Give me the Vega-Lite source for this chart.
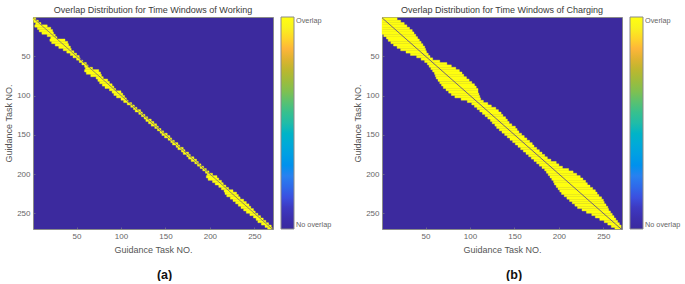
{
"$schema":"https://vega.github.io/schema/vega-lite/v6.json",
"background":"white",
"padding":{"left":4,"top":5,"right":0,"bottom":0},
"spacing":21,
"datasets":{
"working":[
{"row":1,"rowEnd":4,"from":1,"to":4,"overlap":1},{"row":4,"rowEnd":7,"from":2,"to":7,"overlap":1},{"row":7,"rowEnd":10,"from":4,"to":10,"overlap":1},{"row":10,"rowEnd":13,"from":3,"to":17,"overlap":1},{"row":13,"rowEnd":16,"from":6,"to":21,"overlap":1},{"row":16,"rowEnd":19,"from":8,"to":23,"overlap":1},{"row":19,"rowEnd":22,"from":11,"to":24,"overlap":1},{"row":22,"rowEnd":25,"from":17,"to":26,"overlap":1},{"row":25,"rowEnd":28,"from":21,"to":28,"overlap":1},{"row":28,"rowEnd":31,"from":20,"to":37,"overlap":1},{"row":31,"rowEnd":34,"from":22,"to":40,"overlap":1},{"row":34,"rowEnd":37,"from":26,"to":41,"overlap":1},{"row":37,"rowEnd":40,"from":30,"to":43,"overlap":1},{"row":40,"rowEnd":43,"from":35,"to":44,"overlap":1},{"row":43,"rowEnd":46,"from":39,"to":47,"overlap":1},{"row":46,"rowEnd":49,"from":43,"to":50,"overlap":1},{"row":49,"rowEnd":52,"from":46,"to":53,"overlap":1},{"row":52,"rowEnd":55,"from":50,"to":54,"overlap":1},{"row":55,"rowEnd":58,"from":53,"to":57,"overlap":1},{"row":58,"rowEnd":61,"from":56,"to":61,"overlap":1},{"row":61,"rowEnd":64,"from":59,"to":63,"overlap":1},{"row":64,"rowEnd":67,"from":60,"to":68,"overlap":1},{"row":67,"rowEnd":70,"from":59,"to":75,"overlap":1},{"row":70,"rowEnd":73,"from":61,"to":77,"overlap":1},{"row":73,"rowEnd":76,"from":66,"to":78,"overlap":1},{"row":76,"rowEnd":79,"from":72,"to":80,"overlap":1},{"row":79,"rowEnd":82,"from":74,"to":85,"overlap":1},{"row":82,"rowEnd":85,"from":76,"to":87,"overlap":1},{"row":85,"rowEnd":88,"from":79,"to":90,"overlap":1},{"row":88,"rowEnd":91,"from":82,"to":92,"overlap":1},{"row":91,"rowEnd":94,"from":87,"to":94,"overlap":1},{"row":94,"rowEnd":97,"from":90,"to":100,"overlap":1},{"row":97,"rowEnd":100,"from":92,"to":102,"overlap":1},{"row":100,"rowEnd":103,"from":95,"to":104,"overlap":1},{"row":103,"rowEnd":106,"from":100,"to":106,"overlap":1},{"row":106,"rowEnd":109,"from":103,"to":108,"overlap":1},{"row":109,"rowEnd":112,"from":107,"to":112,"overlap":1},{"row":112,"rowEnd":115,"from":111,"to":115,"overlap":1},{"row":115,"rowEnd":118,"from":114,"to":118,"overlap":1},{"row":118,"rowEnd":121,"from":116,"to":122,"overlap":1},{"row":121,"rowEnd":124,"from":120,"to":124,"overlap":1},{"row":124,"rowEnd":127,"from":123,"to":127,"overlap":1},{"row":127,"rowEnd":130,"from":126,"to":130,"overlap":1},{"row":130,"rowEnd":133,"from":128,"to":134,"overlap":1},{"row":133,"rowEnd":136,"from":131,"to":137,"overlap":1},{"row":136,"rowEnd":139,"from":134,"to":140,"overlap":1},{"row":139,"rowEnd":142,"from":138,"to":142,"overlap":1},{"row":142,"rowEnd":145,"from":141,"to":145,"overlap":1},{"row":145,"rowEnd":148,"from":144,"to":148,"overlap":1},{"row":148,"rowEnd":151,"from":146,"to":152,"overlap":1},{"row":151,"rowEnd":154,"from":149,"to":155,"overlap":1},{"row":154,"rowEnd":157,"from":153,"to":157,"overlap":1},{"row":157,"rowEnd":160,"from":156,"to":160,"overlap":1},{"row":160,"rowEnd":163,"from":158,"to":164,"overlap":1},{"row":163,"rowEnd":166,"from":162,"to":166,"overlap":1},{"row":166,"rowEnd":169,"from":164,"to":170,"overlap":1},{"row":169,"rowEnd":172,"from":168,"to":172,"overlap":1},{"row":172,"rowEnd":175,"from":170,"to":176,"overlap":1},{"row":175,"rowEnd":178,"from":174,"to":178,"overlap":1},{"row":178,"rowEnd":181,"from":176,"to":182,"overlap":1},{"row":181,"rowEnd":184,"from":179,"to":185,"overlap":1},{"row":184,"rowEnd":187,"from":183,"to":187,"overlap":1},{"row":187,"rowEnd":190,"from":186,"to":190,"overlap":1},{"row":190,"rowEnd":193,"from":189,"to":193,"overlap":1},{"row":193,"rowEnd":196,"from":192,"to":196,"overlap":1},{"row":196,"rowEnd":199,"from":195,"to":199,"overlap":1},{"row":199,"rowEnd":202,"from":197,"to":203,"overlap":1},{"row":202,"rowEnd":205,"from":196,"to":208,"overlap":1},{"row":205,"rowEnd":208,"from":198,"to":210,"overlap":1},{"row":208,"rowEnd":211,"from":203,"to":213,"overlap":1},{"row":211,"rowEnd":214,"from":206,"to":215,"overlap":1},{"row":214,"rowEnd":217,"from":210,"to":218,"overlap":1},{"row":217,"rowEnd":220,"from":213,"to":221,"overlap":1},{"row":220,"rowEnd":223,"from":216,"to":226,"overlap":1},{"row":223,"rowEnd":226,"from":217,"to":230,"overlap":1},{"row":226,"rowEnd":229,"from":219,"to":232,"overlap":1},{"row":229,"rowEnd":232,"from":223,"to":234,"overlap":1},{"row":232,"rowEnd":235,"from":226,"to":238,"overlap":1},{"row":235,"rowEnd":238,"from":229,"to":241,"overlap":1},{"row":238,"rowEnd":241,"from":232,"to":244,"overlap":1},{"row":241,"rowEnd":244,"from":235,"to":246,"overlap":1},{"row":244,"rowEnd":247,"from":238,"to":249,"overlap":1},{"row":247,"rowEnd":250,"from":241,"to":251,"overlap":1},{"row":250,"rowEnd":253,"from":245,"to":254,"overlap":1},{"row":253,"rowEnd":256,"from":249,"to":257,"overlap":1},{"row":256,"rowEnd":259,"from":252,"to":260,"overlap":1},{"row":259,"rowEnd":262,"from":254,"to":263,"overlap":1},{"row":262,"rowEnd":265,"from":258,"to":266,"overlap":1},{"row":265,"rowEnd":268,"from":262,"to":269,"overlap":1},{"row":268,"rowEnd":270,"from":265,"to":270,"overlap":1}
],
"charging":[
{"row":1,"rowEnd":4,"from":1,"to":18,"overlap":1},{"row":4,"rowEnd":7,"from":1,"to":22,"overlap":1},{"row":7,"rowEnd":10,"from":1,"to":26,"overlap":1},{"row":10,"rowEnd":13,"from":1,"to":29,"overlap":1},{"row":13,"rowEnd":16,"from":1,"to":32,"overlap":1},{"row":16,"rowEnd":19,"from":1,"to":35,"overlap":1},{"row":19,"rowEnd":22,"from":1,"to":37,"overlap":1},{"row":22,"rowEnd":25,"from":3,"to":39,"overlap":1},{"row":25,"rowEnd":28,"from":6,"to":41,"overlap":1},{"row":28,"rowEnd":31,"from":8,"to":43,"overlap":1},{"row":31,"rowEnd":34,"from":11,"to":45,"overlap":1},{"row":34,"rowEnd":37,"from":14,"to":47,"overlap":1},{"row":37,"rowEnd":40,"from":18,"to":49,"overlap":1},{"row":40,"rowEnd":43,"from":22,"to":50,"overlap":1},{"row":43,"rowEnd":46,"from":28,"to":51,"overlap":1},{"row":46,"rowEnd":49,"from":33,"to":53,"overlap":1},{"row":49,"rowEnd":52,"from":40,"to":55,"overlap":1},{"row":52,"rowEnd":55,"from":45,"to":58,"overlap":1},{"row":55,"rowEnd":58,"from":49,"to":66,"overlap":1},{"row":58,"rowEnd":61,"from":52,"to":74,"overlap":1},{"row":61,"rowEnd":64,"from":54,"to":79,"overlap":1},{"row":64,"rowEnd":67,"from":56,"to":84,"overlap":1},{"row":67,"rowEnd":70,"from":58,"to":88,"overlap":1},{"row":70,"rowEnd":73,"from":60,"to":91,"overlap":1},{"row":73,"rowEnd":76,"from":61,"to":93,"overlap":1},{"row":76,"rowEnd":79,"from":62,"to":96,"overlap":1},{"row":79,"rowEnd":82,"from":64,"to":99,"overlap":1},{"row":82,"rowEnd":85,"from":66,"to":102,"overlap":1},{"row":85,"rowEnd":88,"from":68,"to":105,"overlap":1},{"row":88,"rowEnd":91,"from":70,"to":107,"overlap":1},{"row":91,"rowEnd":94,"from":73,"to":109,"overlap":1},{"row":94,"rowEnd":97,"from":76,"to":109,"overlap":1},{"row":97,"rowEnd":100,"from":79,"to":110,"overlap":1},{"row":100,"rowEnd":103,"from":83,"to":111,"overlap":1},{"row":103,"rowEnd":106,"from":90,"to":112,"overlap":1},{"row":106,"rowEnd":109,"from":97,"to":115,"overlap":1},{"row":109,"rowEnd":112,"from":102,"to":120,"overlap":1},{"row":112,"rowEnd":115,"from":105,"to":124,"overlap":1},{"row":115,"rowEnd":118,"from":108,"to":129,"overlap":1},{"row":118,"rowEnd":121,"from":111,"to":132,"overlap":1},{"row":121,"rowEnd":124,"from":114,"to":135,"overlap":1},{"row":124,"rowEnd":127,"from":117,"to":137,"overlap":1},{"row":127,"rowEnd":130,"from":120,"to":140,"overlap":1},{"row":130,"rowEnd":133,"from":123,"to":142,"overlap":1},{"row":133,"rowEnd":136,"from":125,"to":144,"overlap":1},{"row":136,"rowEnd":139,"from":128,"to":147,"overlap":1},{"row":139,"rowEnd":142,"from":130,"to":151,"overlap":1},{"row":142,"rowEnd":145,"from":133,"to":153,"overlap":1},{"row":145,"rowEnd":148,"from":136,"to":155,"overlap":1},{"row":148,"rowEnd":151,"from":139,"to":158,"overlap":1},{"row":151,"rowEnd":154,"from":142,"to":161,"overlap":1},{"row":154,"rowEnd":157,"from":145,"to":164,"overlap":1},{"row":157,"rowEnd":160,"from":148,"to":167,"overlap":1},{"row":160,"rowEnd":163,"from":151,"to":170,"overlap":1},{"row":163,"rowEnd":166,"from":154,"to":172,"overlap":1},{"row":166,"rowEnd":169,"from":157,"to":175,"overlap":1},{"row":169,"rowEnd":172,"from":160,"to":178,"overlap":1},{"row":172,"rowEnd":175,"from":163,"to":181,"overlap":1},{"row":175,"rowEnd":178,"from":166,"to":184,"overlap":1},{"row":178,"rowEnd":181,"from":169,"to":187,"overlap":1},{"row":181,"rowEnd":184,"from":172,"to":191,"overlap":1},{"row":184,"rowEnd":187,"from":175,"to":197,"overlap":1},{"row":187,"rowEnd":190,"from":178,"to":200,"overlap":1},{"row":190,"rowEnd":193,"from":181,"to":204,"overlap":1},{"row":193,"rowEnd":196,"from":184,"to":211,"overlap":1},{"row":196,"rowEnd":199,"from":186,"to":216,"overlap":1},{"row":199,"rowEnd":202,"from":188,"to":220,"overlap":1},{"row":202,"rowEnd":205,"from":190,"to":224,"overlap":1},{"row":205,"rowEnd":208,"from":192,"to":227,"overlap":1},{"row":208,"rowEnd":211,"from":194,"to":230,"overlap":1},{"row":211,"rowEnd":214,"from":195,"to":232,"overlap":1},{"row":214,"rowEnd":217,"from":197,"to":235,"overlap":1},{"row":217,"rowEnd":220,"from":199,"to":238,"overlap":1},{"row":220,"rowEnd":223,"from":201,"to":241,"overlap":1},{"row":223,"rowEnd":226,"from":203,"to":243,"overlap":1},{"row":226,"rowEnd":229,"from":206,"to":245,"overlap":1},{"row":229,"rowEnd":232,"from":209,"to":248,"overlap":1},{"row":232,"rowEnd":235,"from":212,"to":250,"overlap":1},{"row":235,"rowEnd":238,"from":215,"to":251,"overlap":1},{"row":238,"rowEnd":241,"from":218,"to":253,"overlap":1},{"row":241,"rowEnd":244,"from":221,"to":255,"overlap":1},{"row":244,"rowEnd":247,"from":226,"to":256,"overlap":1},{"row":247,"rowEnd":250,"from":231,"to":258,"overlap":1},{"row":250,"rowEnd":253,"from":237,"to":260,"overlap":1},{"row":253,"rowEnd":256,"from":241,"to":262,"overlap":1},{"row":256,"rowEnd":259,"from":246,"to":264,"overlap":1},{"row":259,"rowEnd":262,"from":251,"to":266,"overlap":1},{"row":262,"rowEnd":265,"from":255,"to":268,"overlap":1},{"row":265,"rowEnd":268,"from":259,"to":270,"overlap":1},{"row":268,"rowEnd":270,"from":263,"to":270,"overlap":1}
],
"diagonal":[{"task":1},{"task":270}]
},
"config":{
"font":"Liberation Sans",
"view":{"fill":"#3C2A9E","stroke":"#8a8a8a","strokeWidth":1},
"title":{"fontSize":9,"fontWeight":"normal","color":"#3a3a3a","offset":1},
"axis":{"grid":false,"labelFontSize":8,"labelColor":"#666666","titleFontSize":9,"titleFontWeight":"normal","titleColor":"#555555","domain":false,"tickColor":"#8a8a8a","tickSize":-2,"labelPadding":5,"tickWidth":0.6},
"legend":{"gradientLength":212,"gradientThickness":13,"labelFontSize":7.3,"labelColor":"#666666","gradientStrokeColor":"#8a8a8a","gradientStrokeWidth":1,"offset":6,"labelOffset":5}
},
"hconcat":[
{"title":{"text":"(a)","orient":"bottom","anchor":"middle","fontSize":12.5,"fontWeight":"bold","color":"#111111","offset":14,"dx":-3.5},
 "vconcat":[{"title":"Overlap Distribution for Time Windows of Working","width":240,"height":212,
  "layer":[
  {"data":{"name":"working"},"mark":{"type":"rect","stroke":"#FFFF10","strokeWidth":0.4},"encoding":{
    "x":{"field":"from","type":"quantitative","scale":{"domain":[1,271],"nice":false,"zero":false},"axis":{"values":[50,100,150,200,250],"title":"Guidance Task NO.","titlePadding":5}},
    "x2":{"field":"to"},
    "y":{"field":"row","type":"quantitative","scale":{"domain":[0,270],"nice":false,"zero":false,"reverse":true},"axis":{"values":[50,100,150,200,250],"title":"Guidance Task NO.","titlePadding":3}},
    "y2":{"field":"rowEnd"},
    "color":{"field":"overlap","type":"quantitative","scale":{"domain":[0,0.085,0.15,0.245,0.43,0.5,0.65,0.77,0.84,0.94,1],"range":["#3A2A9E","#3D32B8","#3B50E0","#2F7FF0","#10B0D0","#20BCA8","#80C050","#C8B42C","#FCB03C","#F8F020","#FFFF10"]},"legend":{"title":null,"values":[0,1],"labelExpr":"datum.value==1?'Overlap':'No overlap'","labelBaseline":"middle"}}
  }},
  {"data":{"name":"diagonal"},"mark":{"type":"line","stroke":"#3C2A9E","strokeWidth":0.9,"opacity":0.6},"encoding":{
    "x":{"field":"task","type":"quantitative"},
    "y":{"field":"task","type":"quantitative"}
  }}
 ]}]},
{"title":{"text":"(b)","orient":"bottom","anchor":"middle","fontSize":12.5,"fontWeight":"bold","color":"#111111","offset":14,"dx":-3},
 "vconcat":[{"title":"Overlap Distribution for Time Windows of Charging","width":240,"height":212,
  "layer":[
  {"data":{"name":"charging"},"mark":{"type":"rect","stroke":"#FFFF10","strokeWidth":0.4},"encoding":{
    "x":{"field":"from","type":"quantitative","scale":{"domain":[1,271],"nice":false,"zero":false},"axis":{"values":[50,100,150,200,250],"title":"Guidance Task NO.","titlePadding":5}},
    "x2":{"field":"to"},
    "y":{"field":"row","type":"quantitative","scale":{"domain":[0,270],"nice":false,"zero":false,"reverse":true},"axis":{"values":[50,100,150,200,250],"title":"Guidance Task NO.","titlePadding":3}},
    "y2":{"field":"rowEnd"},
    "color":{"field":"overlap","type":"quantitative","scale":{"domain":[0,0.085,0.15,0.245,0.43,0.5,0.65,0.77,0.84,0.94,1],"range":["#3A2A9E","#3D32B8","#3B50E0","#2F7FF0","#10B0D0","#20BCA8","#80C050","#C8B42C","#FCB03C","#F8F020","#FFFF10"]},"legend":{"title":null,"values":[0,1],"labelExpr":"datum.value==1?'Overlap':'No overlap'","labelBaseline":"middle"}}
  }},
  {"data":{"name":"diagonal"},"mark":{"type":"line","stroke":"#3C2A9E","strokeWidth":0.9,"opacity":0.8},"encoding":{
    "x":{"field":"task","type":"quantitative"},
    "y":{"field":"task","type":"quantitative"}
  }}
 ]}]}
],
"resolve":{"scale":{"color":"independent"}}
}
